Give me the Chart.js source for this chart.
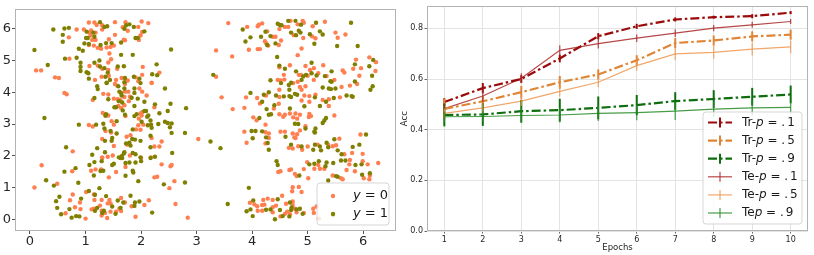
<!DOCTYPE html>
<html><head><meta charset="utf-8">
<script src="https://cdn.jsdelivr.net/npm/chart.js@4"></script>
<style>
html,body{margin:0;padding:0;background:#fff;}
#wrap{position:relative;width:814px;height:255px;overflow:hidden;background:#fff;}
#c1{position:absolute;left:0;top:0;}
#c2{position:absolute;left:400px;top:0;}
</style></head><body>
<div id="wrap"><canvas id="c1" width="400" height="255"></canvas><canvas id="c2" width="414" height="255"></canvas></div>
<script>
// ---------------- DATA ----------------
// Left panel: scatter points [x, y] for class y = 0 (orange) and y = 1 (green)
const scatterY0 = [
[1.06,6.20],[1.16,6.20],[1.30,6.11],[1.20,6.12],[1.53,6.21],[1.72,6.21],[1.67,6.05],[1.76,5.94],[2.01,6.23],[2.13,6.18],[1.95,6.06],[2.02,5.90],[0.84,5.98],[0.97,5.98],[1.10,5.95],[1.07,5.88],[1.18,5.88],[1.30,5.98],[0.70,5.73],[1.09,5.79],[1.12,5.65],[1.18,5.65],[1.53,5.81],[1.69,5.66],[1.96,5.65],[1.99,5.79],[1.06,5.49],[1.15,5.47],[1.22,5.40],[1.28,5.37],[1.42,5.67],[1.38,5.41],[1.45,5.43],[1.51,5.47],[1.71,5.64],[1.43,5.22],[0.71,5.06],[1.46,5.04],[1.41,4.94],[1.07,4.83],[1.22,4.84],[1.30,4.74],[1.57,4.74],[2.03,4.80],[0.11,4.69],[0.20,4.69],[1.41,4.70],[2.33,4.62],[0.45,4.47],[0.52,4.45],[1.17,4.39],[1.29,4.49],[1.42,4.52],[1.65,4.45],[1.76,4.37],[1.90,4.47],[1.95,4.35],[2.02,4.55],[2.19,4.30],[1.55,4.39],
[1.53,4.26],[1.57,4.21],[1.71,4.26],[1.97,4.12],[2.19,4.29],[0.62,3.98],[0.66,3.94],[1.32,3.95],[1.41,3.93],[1.71,4.02],[1.80,3.86],[1.77,4.02],[2.02,4.02],[2.10,3.90],[1.13,3.76],[1.51,3.80],[1.58,3.78],[1.63,3.75],[1.70,3.85],[1.78,3.72],[1.59,3.57],[1.64,3.51],[1.70,3.59],[2.24,3.53],[1.31,3.35],[1.35,3.30],[1.41,3.27],[1.72,3.25],[1.99,3.33],[2.02,3.37],[2.01,3.27],[1.47,3.09],[1.51,2.98],[1.96,3.17],[1.95,2.96],[2.04,2.98],[1.06,2.97],[1.13,2.92],[1.91,2.83],[1.36,2.78],[1.46,2.73],[1.99,2.82],[2.19,2.56],[1.30,2.53],[1.74,2.60],[1.81,2.65],[1.51,2.31],[2.37,2.45],[0.77,2.14],[2.24,2.29],[2.33,2.29],[3.03,2.53],[1.30,1.95],[1.40,1.97],[1.49,2.01],[1.80,2.01],[2.18,1.95],[1.75,2.35],
[1.30,1.93],[2.00,1.93],[0.21,1.70],[1.72,1.65],[2.37,1.73],[2.53,1.67],[2.55,1.71],[1.10,1.53],[1.18,1.57],[1.28,1.57],[0.76,1.51],[1.55,1.49],[1.42,1.32],[2.24,1.32],[2.29,1.34],[0.49,1.12],[2.60,1.20],[0.08,1.00],[2.51,0.98],[1.01,0.86],[1.15,0.78],[0.77,0.78],[0.72,0.60],[1.16,0.61],[1.29,0.61],[1.43,0.61],[1.45,0.50],[1.64,0.67],[1.71,0.53],[2.14,0.60],[0.90,0.53],[1.40,0.50],[0.81,0.38],[1.61,0.33],[1.83,0.41],[2.06,0.45],[2.62,0.48],[0.91,0.32],[1.11,0.31],[1.15,0.33],[1.29,0.27],[1.45,0.24],[1.35,0.20],[1.55,0.24],[1.64,0.26],[1.29,0.12],[0.64,0.19],[1.00,0.02],[1.39,0.04],[1.90,0.08],[2.84,0.05],[1.26,0.43],
[3.57,6.18],[3.91,6.06],[4.10,6.08],[4.12,6.13],[4.18,6.17],[4.49,5.99],[4.59,6.06],[4.65,6.06],[4.69,6.25],[4.82,6.14],[4.91,6.25],[4.93,6.19],[5.09,6.08],[5.31,6.22],[5.50,5.88],[5.54,5.72],[5.68,5.82],[4.27,5.92],[4.37,5.75],[4.42,5.75],[4.75,5.80],[5.08,5.76],[5.14,5.70],[4.92,5.71],[4.23,5.61],[4.25,5.55],[4.29,5.47],[4.48,5.49],[4.52,5.63],[3.35,5.32],[3.94,5.34],[4.10,5.36],[4.14,5.36],[4.89,5.38],[4.82,5.17],[3.64,5.13],[5.87,5.03],[6.11,5.10],[6.23,4.95],[5.28,4.85],[4.49,4.79],[4.68,4.85],[4.96,4.83],[5.11,4.76],[5.96,4.76],[5.82,4.74],[6.22,4.67],[5.63,4.69],[5.66,4.62],[4.84,4.55],[4.88,4.55],[5.04,4.70],[5.00,4.52],[5.34,4.51],[5.19,4.60],[4.57,4.55],[4.58,4.40],[3.35,4.49],[4.46,4.39],[4.51,4.37],[4.74,4.29],[4.82,4.33],[5.11,4.39],[5.48,4.39],[5.93,4.52],
[4.49,4.08],[4.96,4.19],[4.86,4.17],[4.89,4.08],[4.94,3.90],[3.89,3.84],[4.25,3.90],[4.49,3.85],[4.09,3.82],[4.14,3.65],[5.61,4.17],[5.76,4.21],[5.89,4.26],[5.14,3.92],[5.03,3.88],[5.58,3.84],[5.38,3.78],[5.27,3.76],[5.03,3.70],[4.89,3.74],[5.38,3.57],[4.48,3.64],[4.39,3.49],[3.65,3.47],[3.86,3.51],[3.45,3.84],[5.06,3.25],[5.02,3.22],[5.03,3.32],[4.86,3.29],[4.02,3.21],[4.08,3.12],[4.49,3.31],[4.56,3.23],[4.59,3.29],[4.68,3.33],[4.78,3.33],[4.74,3.21],[4.81,3.17],[5.48,3.27],[4.24,2.98],[3.86,2.76],[4.24,2.74],[4.30,2.70],[4.51,2.76],[4.59,2.76],[4.73,2.70],[4.81,2.68],[4.76,2.58],[4.78,2.56],[4.30,2.56],[3.90,2.41],[4.24,2.39],[4.66,2.25],[4.73,2.23],[4.83,2.30],[5.18,2.35],[5.37,2.35],[5.45,2.30],[5.51,2.33],[5.57,2.54],[5.66,2.05],[5.80,2.09],[5.95,2.67],[5.99,2.06],[4.96,2.93],[4.86,2.80],[4.90,2.19],[5.00,2.29],
[4.99,1.80],[5.19,1.71],[5.75,1.73],[5.76,1.87],[5.99,1.83],[6.08,1.73],[6.27,1.77],[4.70,1.57],[4.67,1.55],[4.47,1.49],[4.51,1.51],[4.77,1.43],[4.80,1.36],[4.93,1.58],[5.12,1.59],[5.22,1.59],[5.30,1.59],[5.45,1.38],[5.60,1.29],[5.63,1.26],[5.70,1.55],[5.85,1.51],[6.01,1.29],[6.11,1.26],[6.12,1.38],[5.01,1.29],[4.73,1.01],[4.84,1.02],[4.72,0.88],[4.89,0.86],[4.54,0.74],[4.73,0.56],[4.20,0.61],[4.28,0.65],[4.37,0.61],[3.96,0.52],[4.04,0.47],[4.09,0.41],[4.18,0.45],[4.22,0.46],[4.37,0.38],[4.43,0.43],[4.61,0.49],[4.73,0.45],[4.77,0.33],[5.10,0.33],[5.16,0.40],[4.10,0.27],[4.18,0.27],[4.37,0.22],[4.51,0.09],[4.59,0.17],[4.63,0.24],[4.68,0.16],[4.80,0.22],[4.93,0.20],[5.20,0.02],[5.11,0.20]
];
const scatterY1 = [
[1.26,6.21],[1.34,6.06],[1.39,6.08],[1.73,6.11],[1.79,6.14],[1.70,6.00],[1.87,6.06],[2.06,5.92],[0.42,5.98],[0.62,6.01],[0.70,6.03],[1.02,5.91],[1.14,5.88],[0.59,5.81],[1.01,5.71],[1.04,5.71],[1.16,5.75],[1.90,5.71],[1.94,5.71],[0.59,5.59],[0.98,5.54],[1.06,5.52],[1.27,5.49],[1.37,5.55],[1.47,5.55],[1.64,5.57],[0.08,5.33],[0.88,5.37],[0.95,5.31],[1.64,5.18],[1.85,5.18],[2.54,5.35],[0.63,5.06],[0.84,5.09],[1.25,5.00],[0.32,4.86],[0.91,4.93],[0.91,4.80],[1.16,4.93],[1.26,4.81],[1.34,4.76],[1.58,4.81],[1.69,4.82],[2.28,4.88],[0.91,4.67],[1.02,4.63],[1.05,4.60],[1.06,4.43],[1.36,4.49],[1.40,4.62],[1.44,4.39],[1.38,4.30],[1.71,4.45],[1.70,4.32],[1.87,4.49],[1.97,4.43],[2.20,4.57],[2.29,4.54],
[1.38,4.29],[1.21,4.19],[1.59,4.19],[1.70,4.12],[1.99,4.29],[2.43,4.12],[1.22,4.10],[1.61,4.02],[1.64,3.98],[1.65,3.90],[1.88,4.12],[1.88,3.98],[1.83,3.83],[1.94,3.80],[1.16,3.82],[1.41,3.78],[1.60,3.72],[1.66,3.68],[2.06,3.70],[1.88,3.57],[1.52,3.53],[1.55,3.53],[1.67,3.43],[2.25,3.62],[2.53,3.64],[2.81,3.50],[1.37,3.31],[1.36,3.26],[1.71,3.29],[1.88,3.25],[1.92,3.31],[2.06,3.41],[2.09,3.41],[2.11,3.23],[2.13,3.27],[2.33,3.34],[2.48,3.41],[0.26,3.19],[1.56,3.09],[1.32,3.01],[2.01,3.07],[2.17,3.11],[2.12,2.96],[2.18,2.98],[0.88,2.98],[1.19,2.98],[2.43,3.07],[2.48,3.03],[2.55,3.02],[2.31,3.00],[1.34,2.86],[1.45,2.78],[1.56,2.70],[1.85,2.83],[2.19,2.88],[2.52,2.90],[2.55,2.72],[2.79,2.72],[2.17,2.63],[1.35,2.47],[1.48,2.56],[1.47,2.47],[1.84,2.53],[1.89,2.51],[1.99,2.47],[1.79,2.41],[1.73,2.39],[0.65,2.27],[1.21,2.24],[2.17,2.27],[1.12,2.03],[1.35,2.11],[1.60,1.95],[1.65,1.99],[1.69,2.07],[1.70,2.11],[1.85,2.09],[1.90,2.05],[1.99,1.95],[2.25,1.97],[2.56,2.09],[1.81,2.32],
[1.63,1.93],[1.66,1.93],[2.00,1.83],[2.17,1.93],[1.07,1.71],[1.16,1.80],[1.29,1.83],[1.51,1.75],[1.48,1.71],[1.72,1.77],[1.79,1.79],[1.90,1.79],[0.82,1.61],[0.62,1.50],[1.27,1.52],[1.32,1.53],[1.85,1.53],[1.86,1.47],[1.15,1.38],[1.72,1.37],[0.29,1.23],[0.43,1.06],[0.87,1.15],[1.95,1.20],[2.41,1.10],[2.79,1.16],[1.25,0.98],[1.06,0.89],[1.17,0.77],[1.37,0.73],[0.53,0.71],[0.47,0.57],[0.92,0.65],[1.58,0.59],[1.81,0.74],[1.68,0.53],[1.89,0.53],[1.97,0.56],[0.49,0.36],[0.71,0.32],[1.48,0.40],[1.63,0.36],[1.88,0.42],[1.21,0.36],[1.17,0.27],[1.33,0.27],[0.56,0.16],[0.75,0.05],[0.83,0.10],[0.89,0.09],[2.20,0.21],[1.30,0.20],[1.54,0.17],
[3.83,5.98],[4.46,6.16],[4.50,6.12],[4.53,6.11],[4.65,6.25],[4.78,6.25],[4.88,6.13],[5.15,6.19],[5.78,6.19],[5.22,5.92],[5.27,5.82],[4.24,5.91],[4.16,5.75],[4.33,5.77],[4.79,5.80],[4.70,5.88],[4.84,5.94],[4.87,5.88],[5.04,5.83],[3.97,5.73],[3.88,5.60],[4.27,5.49],[4.42,5.54],[5.12,5.53],[5.53,5.46],[5.90,5.46],[4.45,5.11],[6.18,5.02],[5.07,4.93],[4.49,4.84],[4.59,4.74],[5.85,4.88],[6.11,4.82],[5.43,4.66],[4.79,4.66],[4.92,4.50],[4.97,4.55],[5.07,4.60],[5.16,4.53],[5.31,4.51],[3.30,4.55],[4.33,4.38],[4.70,4.30],[4.89,4.39],[5.41,4.35],[5.43,4.33],[5.85,4.34],[6.16,4.52],
[4.66,4.23],[4.67,4.08],[4.52,4.29],[4.77,3.95],[4.81,3.92],[3.97,3.98],[4.18,3.70],[4.21,3.92],[4.30,4.00],[4.43,3.90],[4.57,3.87],[4.67,3.88],[4.70,3.85],[5.27,4.15],[5.38,4.12],[5.42,4.10],[5.50,4.12],[6.13,4.08],[6.17,4.19],[5.13,3.84],[5.70,3.90],[5.79,3.88],[5.81,3.86],[5.47,3.82],[5.33,3.70],[5.22,3.57],[4.94,3.56],[4.40,3.59],[4.26,3.47],[4.30,3.29],[4.34,3.31],[4.68,3.49],[4.13,3.19],[5.33,3.19],[4.77,3.01],[4.83,3.00],[4.96,2.86],[5.14,2.86],[5.12,2.76],[5.13,2.73],[5.27,3.03],[5.30,3.11],[4.18,2.77],[3.99,2.78],[4.06,2.78],[4.60,2.60],[4.25,2.58],[4.01,2.55],[3.25,2.45],[3.43,2.24],[4.28,2.40],[4.30,2.19],[4.70,2.35],[4.89,2.29],[5.10,2.19],[5.13,2.35],[5.22,2.29],[5.24,2.17],[5.34,2.41],[5.37,2.27],[5.48,2.52],[5.54,2.17],[5.61,2.05],[5.81,2.28],[6.05,2.67],[5.93,2.35],
[4.44,1.83],[4.46,1.71],[5.03,1.73],[5.12,1.75],[5.20,1.83],[5.34,1.79],[5.46,1.77],[5.60,1.85],[5.68,1.85],[5.86,1.71],[5.97,1.73],[5.98,1.40],[6.12,1.45],[4.85,1.38],[5.32,1.67],[5.51,1.36],[5.54,1.34],[5.37,1.22],[3.94,0.99],[3.56,0.48],[4.46,0.63],[4.02,0.59],[4.68,0.53],[3.90,0.25],[3.97,0.31],[4.01,0.10],[4.25,0.30],[4.33,0.31],[4.50,0.29],[4.55,0.10],[4.70,0.29],[4.71,0.37],[4.67,0.09],[4.80,0.31],[4.86,0.33],[4.91,0.17],[5.46,0.14],[4.41,0.00]
];
const scatterLabels = ['y = 0', 'y = 1'];
const scatterTicks = [0, 1, 2, 3, 4, 5, 6];

// Right panel: accuracy per epoch
const epochs = [1, 2, 3, 4, 5, 6, 7, 8, 9, 10];
const trP1 = [0.509, 0.564, 0.600, 0.681, 0.769, 0.808, 0.835, 0.844, 0.848, 0.862];
const trP5 = [0.482, 0.512, 0.548, 0.587, 0.618, 0.674, 0.742, 0.752, 0.768, 0.775];
const trP9 = [0.458, 0.460, 0.473, 0.477, 0.486, 0.497, 0.513, 0.521, 0.530, 0.539];
const teP1 = [0.483, 0.533, 0.603, 0.713, 0.740, 0.761, 0.781, 0.801, 0.814, 0.827];
const teP5 = [0.464, 0.486, 0.513, 0.551, 0.587, 0.653, 0.699, 0.705, 0.718, 0.727];
const teP9 = [0.451, 0.452, 0.456, 0.458, 0.464, 0.467, 0.473, 0.481, 0.486, 0.488];
const trP1Err = [0.015, 0.020, 0.015, 0.015, 0.012, 0.010, 0.008, 0.006, 0.008, 0.006];
const trP5Err = [0.040, 0.020, 0.025, 0.025, 0.020, 0.020, 0.020, 0.020, 0.020, 0.020];
const trP9Err = [0.045, 0.045, 0.045, 0.045, 0.045, 0.040, 0.035, 0.035, 0.035, 0.035];
const teP1Err = [0.020, 0.025, 0.020, 0.020, 0.020, 0.015, 0.015, 0.012, 0.012, 0.010];
const teP5Err = [0.020, 0.020, 0.020, 0.020, 0.020, 0.020, 0.025, 0.025, 0.025, 0.025];
const teP9Err = [0.020, 0.020, 0.030, 0.030, 0.030, 0.030, 0.035, 0.030, 0.030, 0.025];
const seriesLabels = ['Tr-p = .1', 'Tr-p = .5', 'Tr-p = .9', 'Te-p = .1', 'Te-p = .5', 'Tep = .9'];
const accTicks = [0.0, 0.2, 0.4, 0.6, 0.8];

// ---------------- STYLE ----------------
const FONT = '"DejaVu Sans"';
Chart.defaults.font.family = 'DejaVu Sans';
Chart.defaults.color = '#262626';
const FRAME = '#b3b3b3';
const scatterColors = ['#ff7f50', '#808000'];
const lineStyles = [
  {color: '#9b0a0a', width: 2.2, dash: [9, 3, 2.5, 3], errW: 2},
  {color: '#df8535', width: 2.2, dash: [9, 3, 2.5, 3], errW: 2},
  {color: '#0e6e0e', width: 2.2, dash: [9, 3, 2.5, 3], errW: 2},
  {color: 'rgba(170,40,40,0.85)', width: 1.2, dash: [], errW: 1.2},
  {color: 'rgba(238,150,80,0.85)', width: 1.2, dash: [], errW: 1.2},
  {color: 'rgba(40,140,40,0.85)', width: 1.2, dash: [], errW: 1.2}
];

function drawParts(ctx, parts, x, y, size) {
  let cx = x;
  for (const p of parts) {
    ctx.font = (p.italic ? 'italic ' : '') + size + 'px ' + FONT;
    cx += p.gap || 0;
    ctx.fillText(p.t, cx, y);
    cx += ctx.measureText(p.t).width;
  }
}
function roundBox(ctx, x, y, w, h, r) {
  ctx.beginPath();
  ctx.moveTo(x + r, y); ctx.lineTo(x + w - r, y); ctx.quadraticCurveTo(x + w, y, x + w, y + r);
  ctx.lineTo(x + w, y + h - r); ctx.quadraticCurveTo(x + w, y + h, x + w - r, y + h);
  ctx.lineTo(x + r, y + h); ctx.quadraticCurveTo(x, y + h, x, y + h - r);
  ctx.lineTo(x, y + r); ctx.quadraticCurveTo(x, y, x + r, y); ctx.closePath();
}

const framePlugin = {
  id: 'frame',
  afterDatasetsDraw(chart) {
    const a = chart.chartArea, c = chart.ctx;
    c.save(); c.strokeStyle = FRAME; c.lineWidth = 1;
    c.strokeRect(Math.round(a.left) + 0.5, Math.round(a.top) + 0.5, Math.round(a.right - a.left) - 1, Math.round(a.bottom - a.top) - 1);
    c.restore();
  }
};

const scatterLegend = {
  id: 'scatterLegend',
  afterDraw(chart) {
    const a = chart.chartArea, c = chart.ctx;
    const w = 72, h = 42, x = a.right - 7 - w, y = a.bottom - 6 - h;
    c.save();
    roundBox(c, x, y, w, h, 3);
    c.fillStyle = 'rgba(255,255,255,0.8)'; c.fill();
    c.strokeStyle = 'rgba(204,204,204,0.8)'; c.lineWidth = 1; c.stroke();
    c.textBaseline = 'middle'; c.fillStyle = '#1a1a1a';
    chart.data.datasets.forEach((ds, i) => {
      const ry = y + 13 + i * 18;
      c.beginPath(); c.arc(x + 16, ry, 2.2, 0, Math.PI * 2); c.fillStyle = ds.backgroundColor; c.fill();
      c.fillStyle = '#1a1a1a';
      const lab = ds.label;
      drawParts(c, [{t: lab.slice(0, 1), italic: true}, {t: lab.slice(1)}], x + 36, ry, 13);
    });
    c.restore();
  }
};

const errorBars = {
  id: 'errorBars',
  afterDatasetsDraw(chart) {
    const c = chart.ctx, xs = chart.scales.x, ys = chart.scales.y;
    c.save();
    chart.data.datasets.forEach(ds => {
      c.strokeStyle = ds.borderColor; c.lineWidth = ds.errWidth;
      ds.data.forEach((p, j) => {
        const px = xs.getPixelForValue(p.x);
        c.beginPath();
        c.moveTo(px, ys.getPixelForValue(p.y - ds.errors[j]));
        c.lineTo(px, ys.getPixelForValue(p.y + ds.errors[j]));
        c.stroke();
      });
    });
    c.restore();
  }
};

const lineLegend = {
  id: 'lineLegend',
  afterDraw(chart) {
    const a = chart.chartArea, c = chart.ctx;
    const w = 99, h = 112, x = a.right - 6 - w, y = a.bottom - 7 - h;
    c.save();
    roundBox(c, x, y, w, h, 3);
    c.fillStyle = 'rgba(255,255,255,0.8)'; c.fill();
    c.strokeStyle = 'rgba(204,204,204,0.8)'; c.lineWidth = 1; c.stroke();
    c.textBaseline = 'middle';
    chart.data.datasets.forEach((ds, i) => {
      const ry = y + 10.5 + i * 18.1;
      c.strokeStyle = ds.borderColor; c.lineWidth = ds.borderWidth; c.setLineDash(ds.borderDash || []);
      c.beginPath(); c.moveTo(x + 5, ry); c.lineTo(x + 29, ry); c.stroke();
      c.setLineDash([]); c.lineWidth = ds.errWidth;
      c.beginPath(); c.moveTo(x + 17, ry - 5); c.lineTo(x + 17, ry + 5); c.stroke();
      c.fillStyle = '#1a1a1a';
      const lab = ds.label, k = lab.indexOf('p'), rest = lab.slice(k + 1);
      drawParts(c, [{t: lab.slice(0, k)}, {t: 'p', italic: true}, {t: rest.slice(0, -1)}, {t: rest.slice(-1), gap: 2}], x + 39, ry, 12);
    });
    c.restore();
  }
};

// ---------------- LEFT CHART ----------------
new Chart(document.getElementById('c1'), {
  type: 'scatter',
  data: {
    datasets: [
      {label: scatterLabels[0], data: scatterY0.map(p => ({x: p[0], y: p[1]})), backgroundColor: scatterColors[0], borderWidth: 0, pointRadius: 2.2, order: 1},
      {label: scatterLabels[1], data: scatterY1.map(p => ({x: p[0], y: p[1]})), backgroundColor: scatterColors[1], borderWidth: 0, pointRadius: 2.2, order: 0}
    ]
  },
  options: {
    responsive: false, animation: false, devicePixelRatio: 1,
    layout: {padding: {top: 2, right: 4, left: 0, bottom: 0}},
    plugins: {legend: {display: false}, tooltip: {enabled: false}},
    scales: {
      x: {
        type: 'linear', min: -0.27, max: 6.59,
        afterBuildTicks: s => { s.ticks = scatterTicks.map(v => ({value: v})); },
        ticks: {font: {size: 13, lineHeight: 1}, padding: 1, color: '#262626', callback: v => String(v)},
        grid: {drawOnChartArea: false, tickLength: 3, tickColor: '#555'},
        border: {display: false},
        afterFit: s => { s.height = 24; }
      },
      y: {
        type: 'linear', min: -0.37, max: 6.63,
        afterBuildTicks: s => { s.ticks = scatterTicks.map(v => ({value: v})); },
        ticks: {font: {size: 13}, padding: 1, color: '#262626', callback: v => String(v)},
        grid: {drawOnChartArea: false, tickLength: 3, tickColor: '#555'},
        border: {display: false},
        afterFit: s => { s.width = 15; }
      }
    }
  },
  plugins: [framePlugin, scatterLegend]
});

// ---------------- RIGHT CHART ----------------
const seriesValues = [trP1, trP5, trP9, teP1, teP5, teP9];
const seriesErrors = [trP1Err, trP5Err, trP9Err, teP1Err, teP5Err, teP9Err];
new Chart(document.getElementById('c2'), {
  type: 'line',
  data: {
    datasets: seriesValues.map((vals, i) => ({
      label: seriesLabels[i],
      data: vals.map((v, j) => ({x: epochs[j], y: v})),
      borderColor: lineStyles[i].color,
      borderWidth: lineStyles[i].width,
      borderDash: lineStyles[i].dash,
      errors: seriesErrors[i],
      errWidth: lineStyles[i].errW,
      pointRadius: 0, fill: false, tension: 0
    }))
  },
  options: {
    responsive: false, animation: false, devicePixelRatio: 1,
    layout: {padding: {top: 3, right: 6, left: 0, bottom: 0}},
    plugins: {legend: {display: false}, tooltip: {enabled: false}},
    scales: {
      x: {
        type: 'linear', min: 0.55, max: 10.45,
        afterBuildTicks: s => { s.ticks = epochs.map(v => ({value: v})); },
        ticks: {font: {size: 8, lineHeight: 1}, padding: 2, color: '#262626', callback: v => String(v)},
        grid: {color: '#e3e3e3', tickLength: 2.5, tickColor: '#666'},
        border: {display: false},
        title: {display: true, text: 'Epochs', font: {size: 8.5}, padding: {top: 0, bottom: 2}, color: '#262626'},
        afterFit: s => { s.height = 24; }
      },
      y: {
        type: 'linear', min: 0, max: 0.887,
        afterBuildTicks: s => { s.ticks = accTicks.map(v => ({value: v})); },
        ticks: {font: {size: 8}, padding: 1.5, color: '#262626', callback: v => Number(v).toFixed(1)},
        grid: {color: '#e3e3e3', tickLength: 2.5, tickColor: '#666'},
        border: {display: false},
        title: {display: true, text: 'Acc', font: {size: 8.5}, padding: {top: 0, bottom: 0}, color: '#262626'},
        afterFit: s => { s.width = 27; }
      }
    }
  },
  plugins: [errorBars, framePlugin, lineLegend]
});
</script>
</body></html>
